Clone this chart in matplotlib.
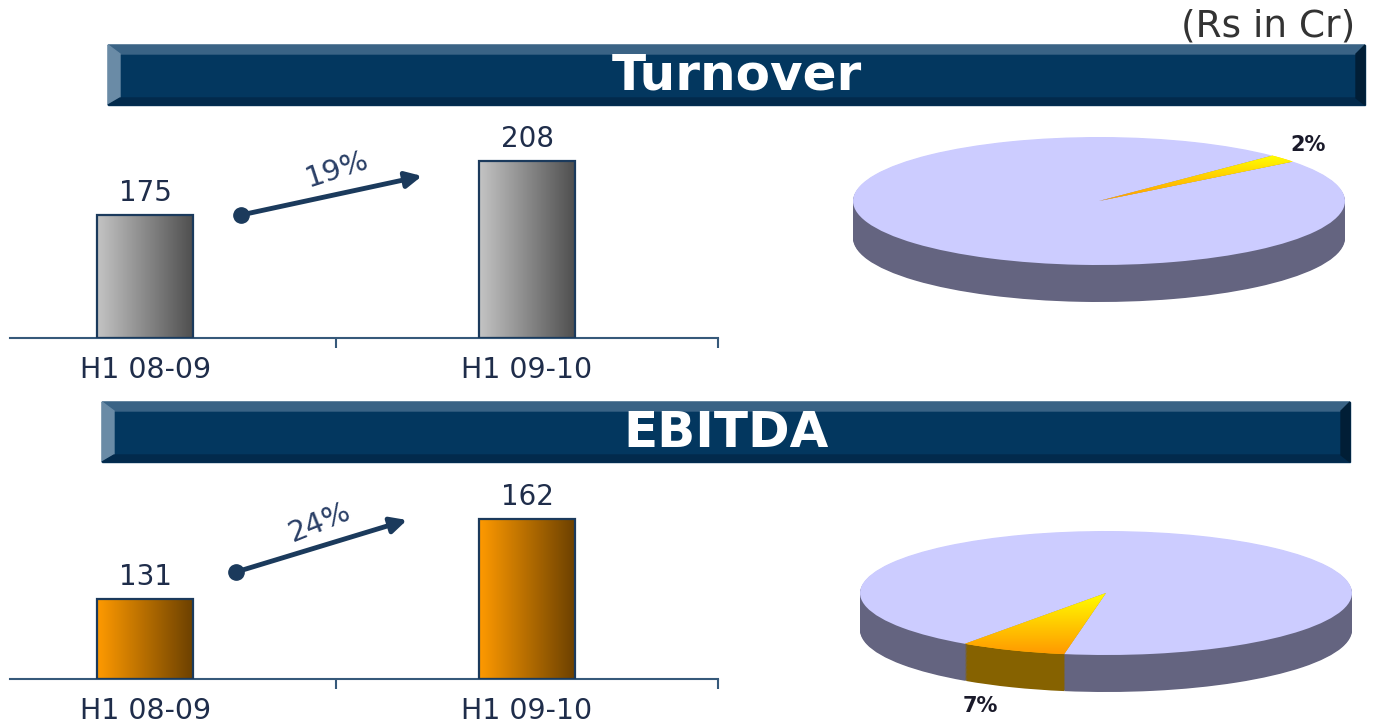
import numpy as np
import matplotlib.pyplot as plt
from matplotlib.patches import Polygon
from matplotlib.colors import LinearSegmentedColormap

# values in Rs crore
periods = ['H1 08-09', 'H1 09-10']
turnover = [175, 208]
ebitda = [131, 162]
turnover_growth = '19%'
ebitda_growth = '24%'

# pie shares (%), highlighted segment first
turnover_share = [2, 98]
ebitda_share = [7, 93]
turnover_pct = '2%'
ebitda_pct = '7%'

W, H = 1382, 724
navy = '#1B3A5C'
text_col = '#1F2D4A'

fig = plt.figure(figsize=(W / 100, H / 100), dpi=100)


def px_axes(left, top, width, height):
    # axes placed by pixel box (top-left origin)
    return fig.add_axes([left / W, 1 - (top + height) / H, width / W, height / H])


# overlay for banners, arrows and loose text
ov = px_axes(0, 0, W, H)
ov.set_xlim(0, W)
ov.set_ylim(H, 0)
ov.axis('off')


def banner(x0, y0, x1, y1, title):
    b = 9
    ov.add_patch(Polygon([(x0, y0), (x1, y0), (x1, y1), (x0, y1)], color='#03375F'))
    ov.add_patch(Polygon([(x0, y0), (x1, y0), (x1 - b, y0 + b), (x0 + b, y0 + b)], color='#3A6385'))
    ov.add_patch(Polygon([(x0, y0), (x0 + b + 3, y0 + b), (x0 + b + 3, y1 - 7), (x0, y1)], color='#6A8BA6'))
    ov.add_patch(Polygon([(x0, y1), (x0 + b + 3, y1 - 7), (x1 - b, y1 - 7), (x1, y1)], color='#022A4C'))
    ov.add_patch(Polygon([(x1, y0), (x1, y1), (x1 - b, y1 - 7), (x1 - b, y0 + b)], color='#011E36'))
    ov.text((x0 + x1) / 2, (y0 + y1) / 2 + 1, title, color='white', fontsize=36,
            fontweight='bold', ha='center', va='center')


def bar_panel(top, base, ymax, values, c_left, c_right):
    ax = px_axes(10, top, 708, base - top)
    ax.set_facecolor('none')
    cm = LinearSegmentedColormap.from_list('g', [c_left, c_right])
    bars = ax.bar([0, 1], np.array(values) - 100, bottom=100, width=0.252,
                  facecolor='none', edgecolor=navy, linewidth=1.6, zorder=3)
    for b in bars:
        im = ax.imshow(np.linspace(0, 1, 256).reshape(1, -1), cmap=cm, aspect='auto',
                       extent=[b.get_x(), b.get_x() + b.get_width(), 100, b.get_y() + b.get_height()],
                       zorder=2)
        im.set_clip_path(b)
    ax.bar_label(bars, labels=[str(v) for v in values], padding=6, fontsize=20, color=text_col)
    ax.set_xlim(-0.354, 1.5)
    ax.set_ylim(100, ymax)
    for s in ['top', 'left', 'right']:
        ax.spines[s].set_visible(False)
    ax.spines['bottom'].set_color('#36597A')
    ax.spines['bottom'].set_linewidth(1.5)
    ax.set_yticks([])
    ax.set_xticks([0, 1], periods, fontsize=20.5, color=text_col)
    ax.tick_params(axis='x', length=0, pad=13)
    ax.set_xticks([0.5, 1.5], minor=True)
    ax.tick_params(axis='x', which='minor', length=7, width=1.5, color='#36597A')
    return ax


def growth_arrow(dot, tip, label, lxy, rot):
    ov.annotate('', xy=tip, xytext=dot,
                arrowprops=dict(arrowstyle='-|>', color=navy, lw=3.5, mutation_scale=24,
                                shrinkA=0, shrinkB=0))
    ov.plot(*dot, 'o', ms=11, color=navy)
    ov.text(*lxy, label, fontsize=21, color='#2A3F66', rotation=rot,
            ha='center', va='center', rotation_mode='anchor')


def pie_panel(cx, cy, rx, ry, depth, shares, start):
    m = 4
    ax = px_axes(cx - rx - m, cy - ry - m, 2 * (rx + m), 2 * ry + depth + 2 * m)
    # side of the disc: stacked darker pies
    for d in np.linspace(depth / ry, 0, 45, endpoint=False):
        ax.pie(shares, colors=['#866200', '#646480'], startangle=start,
               center=(0, -d), wedgeprops=dict(linewidth=0))
    wedges, _ = ax.pie(shares, colors=['#FFC000', '#CCCCFF'], startangle=start,
                       wedgeprops=dict(linewidth=0))
    seg = wedges[0]
    vy = seg.get_path().vertices[:, 1]
    vx = seg.get_path().vertices[:, 0]
    cm = LinearSegmentedColormap.from_list('p', ['#FF9900', '#FFFF00'])
    im = ax.imshow(np.linspace(0, 1, 256).reshape(-1, 1), cmap=cm, origin='lower',
                   extent=[vx.min(), vx.max(), vy.min(), vy.max()], aspect='auto', zorder=5)
    im.set_clip_path(seg)
    ax.set_aspect('auto')
    ax.set_xlim(-(rx + m) / rx, (rx + m) / rx)
    ax.set_ylim(-(ry + depth + m) / ry, (ry + m) / ry)
    ax.axis('off')
    return ax


ov.text(1355, 27, '(Rs in Cr)', fontsize=27, color='#333333', ha='right', va='center')

banner(108, 45, 1365, 105, 'Turnover')
bar_panel(120, 338, 233, turnover, '#C4C4C4', '#4E4E4E')
growth_arrow((241, 215), (422, 176), turnover_growth, (337, 169), 18)
pie_panel(1099, 201, 246, 64, 37, turnover_share, 38)
ov.text(1308, 145, turnover_pct, fontsize=15, fontweight='bold', color='#1A1A2A',
        ha='center', va='center')

banner(102, 402, 1350, 462, 'EBITDA')
bar_panel(490, 679, 173.3, ebitda, '#FF9A00', '#6B4000')
growth_arrow((236, 572), (407, 520), ebitda_growth, (320, 522), 22)
pie_panel(1106, 593, 246, 62, 37, ebitda_share, 235)
ov.text(980, 706, ebitda_pct, fontsize=15, fontweight='bold', color='#1A1A2A',
        ha='center', va='center')

plt.savefig('out.png', dpi=100)
